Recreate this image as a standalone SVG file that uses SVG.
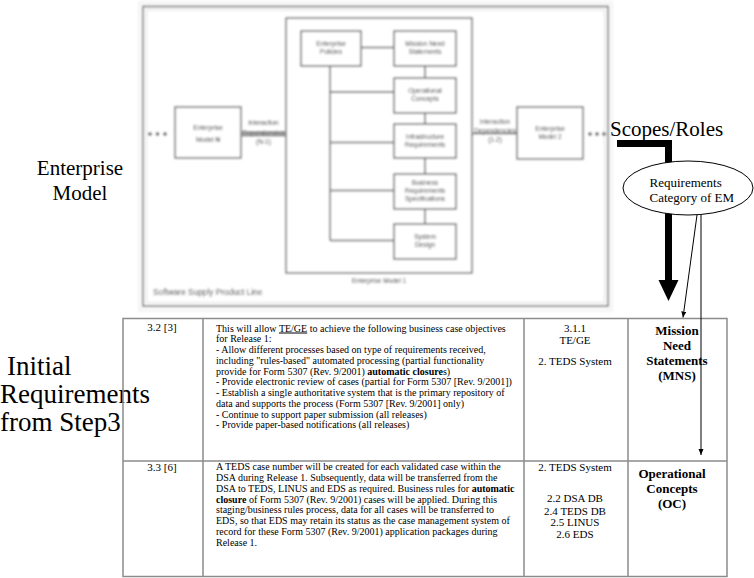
<svg xmlns="http://www.w3.org/2000/svg" width="754" height="578" viewBox="0 0 754 578">
  <style>
    .serif { font-family: "Liberation Serif", "Times New Roman", serif; fill: #000; }
    .big { font-size: 21px; }
    .huge { font-size: 27px; }
    .cell { font-size: 10px; }
    .cell11 { font-size: 11px; }
    .head { font-size: 13px; font-weight: bold; }
    .em-box { fill: #fff; stroke: #5e5e5e; stroke-width: 1.4; }
    .em-line { fill: none; stroke: #5e5e5e; stroke-width: 1.4; }
    .em-text { font-family: "Liberation Sans", Arial, sans-serif; font-size: 6.5px; fill: #444; text-anchor: middle; }
    .grid { fill: none; stroke: #8c8c8c; stroke-width: 1.5; }
    .thin { fill: none; stroke: #000; stroke-width: 1; }
  </style>
  <defs>
    <filter id="soft" x="-5%" y="-5%" width="110%" height="110%">
      <feGaussianBlur stdDeviation="0.8"/>
    </filter>
    <marker id="tip" markerUnits="userSpaceOnUse" markerWidth="7" markerHeight="6" refX="6" refY="2.5" orient="auto">
      <path d="M0,0 L6,2.5 L0,5 z" fill="#000"/>
    </marker>
  </defs>

  <rect width="754" height="578" fill="#fff"/>

  <!-- Enterprise model picture: software supply product line -->
  <g id="enterprise-model-picture" filter="url(#soft)">
    <rect x="139" y="2" width="473" height="309" fill="#fafafa" stroke="#ececec" stroke-width="1"/>
    <rect x="143" y="6.5" width="465" height="299.5" fill="#fff" stroke="#8a8a8a" stroke-width="2"/>
    <rect x="146.5" y="10" width="458" height="292.5" fill="none" stroke="#dcdcdc" stroke-width="1"/>

    <!-- chain: left model, interaction, model 1, interaction, right model -->
    <g id="em-dots-left" fill="#444">
      <circle cx="150" cy="134" r="1.8"/><circle cx="157.5" cy="134" r="1.8"/><circle cx="165" cy="134" r="1.8"/>
    </g>
    <g id="em-model-n">
      <rect class="em-box" x="175" y="107" width="66" height="51"/>
      <text class="em-text" x="208" y="130">Enterprise</text>
      <text class="em-text" x="208" y="142">Model <tspan font-weight="bold">N</tspan></text>
    </g>
    <line class="em-line" x1="241" y1="132.5" x2="286" y2="132.5"/>
    <line class="em-line" x1="241" y1="135.5" x2="286" y2="135.5"/>
    <g id="em-interaction-left">
      <text class="em-text" x="263.5" y="125">Interaction</text>
      <text class="em-text" x="263.5" y="135">Dependencies</text>
      <text class="em-text" x="263.5" y="144">(N-1)</text>
    </g>

    <g id="em-model-1">
      <rect class="em-box" x="286" y="18" width="186" height="255"/>
      <text class="em-text" x="379" y="283">Enterprise Model 1</text>
    </g>
    <g id="em-policies">
      <rect class="em-box" x="301" y="31" width="60" height="35"/>
      <text class="em-text" x="331" y="46">Enterprise</text>
      <text class="em-text" x="331" y="54">Policies</text>
    </g>
    <g id="em-mns">
      <rect class="em-box" x="394" y="31" width="62" height="35"/>
      <text class="em-text" x="425" y="46">Mission Need</text>
      <text class="em-text" x="425" y="54">Statements</text>
    </g>
    <g id="em-oc">
      <rect class="em-box" x="394" y="78" width="62" height="35"/>
      <text class="em-text" x="425" y="93">Operational</text>
      <text class="em-text" x="425" y="101">Concepts</text>
    </g>
    <g id="em-infra">
      <rect class="em-box" x="394" y="124" width="62" height="34"/>
      <text class="em-text" x="425" y="139">Infrastructure</text>
      <text class="em-text" x="425" y="147">Requirements</text>
    </g>
    <g id="em-brs">
      <rect class="em-box" x="394" y="174" width="62" height="35"/>
      <text class="em-text" x="425" y="185">Business</text>
      <text class="em-text" x="425" y="193">Requirements</text>
      <text class="em-text" x="425" y="201">Specifications</text>
    </g>
    <g id="em-design">
      <rect class="em-box" x="394" y="224" width="62" height="35"/>
      <text class="em-text" x="425" y="239">System</text>
      <text class="em-text" x="425" y="247">Design</text>
    </g>
    <g id="em-links">
      <path class="em-line" d="M361,47.5 H394 M425,66 V78 M425,113 V124 M425,158 V174 M425,209 V224"/>
      <path class="em-line" d="M330,66 V240.5 M330,92 H394 M330,142.5 H394 M330,190.5 H394 M330,240.5 H394"/>
    </g>

    <line class="em-line" x1="472" y1="133.5" x2="517" y2="133.5"/>
    <g id="em-interaction-right">
      <text class="em-text" x="495" y="124">Interaction</text>
      <text class="em-text" x="495" y="133">Dependencies</text>
      <text class="em-text" x="495" y="142">(1-2)</text>
    </g>
    <g id="em-model-2">
      <rect class="em-box" x="517" y="107" width="66" height="52"/>
      <text class="em-text" x="550" y="131">Enterprise</text>
      <text class="em-text" x="550" y="139">Model 2</text>
    </g>
    <g id="em-dots-right" fill="#444">
      <circle cx="590" cy="134" r="1.8"/><circle cx="597" cy="134" r="1.8"/><circle cx="604" cy="134" r="1.8"/>
    </g>
    <text x="153" y="295" font-family="Liberation Sans, Arial, sans-serif" font-size="8.3px" fill="#444">Software Supply Product Line</text>
  </g>

  <!-- side labels -->
  <g id="label-enterprise-model">
    <text class="serif big" x="80" y="175" text-anchor="middle">Enterprise</text>
    <text class="serif big" x="80" y="200" text-anchor="middle">Model</text>
  </g>
  <g id="label-initial-requirements">
    <text class="serif huge" x="7" y="375">Initial</text>
    <text class="serif huge" x="0" y="403">Requirements</text>
    <text class="serif huge" x="0" y="431">from Step3</text>
  </g>
  <g id="label-scopes-roles">
    <text class="serif big" x="610" y="136">Scopes/Roles</text>
  </g>

  <!-- requirements table -->
  <g id="requirements-table">
    <rect class="grid" x="123" y="318.5" width="604" height="258"/>
    <path class="grid" d="M203,318.5 V576.5 M524,318.5 V576.5 M628,318.5 V576.5 M123,461 H727"/>

    <g id="row-3-2">
      <text class="serif cell11" x="162" y="331" text-anchor="middle">3.2 [3]</text>
      <g class="serif cell">
        <text x="216" y="331.5">This will allow <tspan text-decoration="underline">TE/GE</tspan> to achieve the following business case objectives</text>
        <text x="216" y="342.2">for Release 1:</text>
        <text x="216" y="353">- Allow different processes based on type of requirements received,</text>
        <text x="216" y="363.7">including "rules-based" automated processing (partial functionality</text>
        <text x="216" y="374.5">provide for Form 5307 (Rev. 9/2001) <tspan font-weight="bold">automatic closure</tspan>s)</text>
        <text x="216" y="385.2">- Provide electronic review of cases (partial for Form 5307 [Rev. 9/2001])</text>
        <text x="216" y="396">- Establish a single authoritative system that is the primary repository of</text>
        <text x="216" y="406.7">data and supports the process (Form 5307 [Rev. 9/2001] only)</text>
        <text x="216" y="417.5">- Continue to support paper submission (all releases)</text>
        <text x="216" y="428.2">- Provide paper-based notifications (all releases)</text>
      </g>
      <g class="serif cell11" text-anchor="middle">
        <text x="575" y="332">3.1.1</text>
        <text x="575" y="344">TE/GE</text>
        <text x="575" y="365">2. TEDS System</text>
      </g>
      <g class="serif head" text-anchor="middle">
        <text x="677" y="334.5">Mission</text>
        <text x="677" y="349.5">Need</text>
        <text x="677" y="364.5">Statements</text>
        <text x="677" y="379.5">(MNS)</text>
      </g>
    </g>

    <g id="row-3-3">
      <text class="serif cell11" x="162" y="470.5" text-anchor="middle">3.3 [6]</text>
      <g class="serif cell">
        <text x="216" y="470">A TEDS case number will be created for each validated case within the</text>
        <text x="216" y="480.9">DSA during Release 1.  Subsequently, data will be transferred from the</text>
        <text x="216" y="491.7">DSA to TEDS, LINUS and EDS as required. Business rules for <tspan font-weight="bold">automatic</tspan></text>
        <text x="216" y="502.6"><tspan font-weight="bold">closure</tspan> of Form 5307 (Rev. 9/2001) cases will be applied.  During this</text>
        <text x="216" y="513.4">staging/business rules process, data for all cases will be transferred to</text>
        <text x="216" y="524.3">EDS, so that EDS may retain its status as the case management system of</text>
        <text x="216" y="535.2">record for these Form 5307 (Rev. 9/2001) application packages during</text>
        <text x="216" y="546">Release 1.</text>
      </g>
      <g class="serif cell11" text-anchor="middle">
        <text x="575" y="470.5">2. TEDS System</text>
        <text x="575" y="501.8">2.2 DSA DB</text>
        <text x="575" y="514.5">2.4 TEDS DB</text>
        <text x="575" y="526.3">2.5 LINUS</text>
        <text x="575" y="537.6">2.6 EDS</text>
      </g>
      <g class="serif head" text-anchor="middle">
        <text x="672" y="477.5">Operational</text>
        <text x="672" y="492.5">Concepts</text>
        <text x="672" y="507.5">(OC)</text>
      </g>
    </g>
  </g>

  <!-- connectors -->
  <g id="connectors">
    <path d="M617,143.5 H668.5 V282" fill="none" stroke="#000" stroke-width="7"/>
    <polygon points="658.5,280 678.5,280 668.5,301" fill="#000"/>
  </g>

  <g id="node-requirements-category">
    <ellipse cx="688" cy="188" rx="65" ry="27" fill="#fff" stroke="#000" stroke-width="1"/>
    <text class="serif" x="649.5" y="187" font-size="13px">Requirements</text>
    <text class="serif" x="649.5" y="202" font-size="13px">Category of EM</text>
  </g>

  <g id="connectors-category">
    <line class="thin" x1="697" y1="215" x2="683" y2="317.5" marker-end="url(#tip)"/>
    <line class="thin" x1="701" y1="214.5" x2="701" y2="455" marker-end="url(#tip)"/>
  </g>
</svg>
